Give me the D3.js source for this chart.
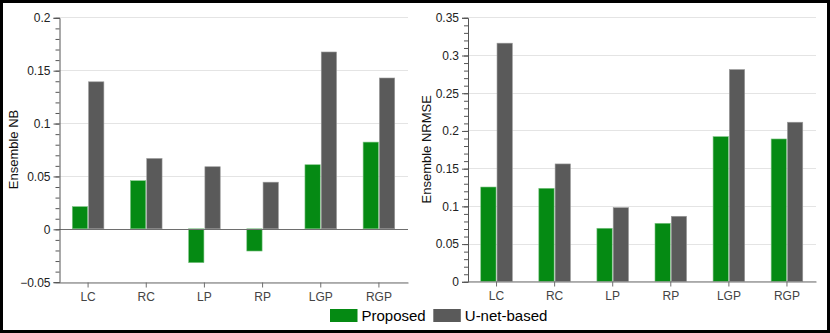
<!DOCTYPE html>
<html>
<head>
<meta charset="utf-8">
<script src="https://cdn.jsdelivr.net/npm/d3@7"></script>
<style>
  html, body { margin: 0; padding: 0; background: #fff; }
  svg { display: block; font-family: "Liberation Sans", Arial, sans-serif; }
</style>
</head>
<body>
<svg id="chart" width="830" height="333"></svg>
<script>
const categories = ["LC", "RC", "LP", "RP", "LGP", "RGP"];
const seriesNames = ["Proposed", "U-net-based"];
const nbProposed = [0.021, 0.0455, -0.032, -0.021, 0.0606, 0.082];
const nbUnet = [0.139, 0.0665, 0.0587, 0.0441, 0.1672, 0.1426];
const nrmseProposed = [0.125, 0.1233, 0.0703, 0.0769, 0.1918, 0.1887];
const nrmseUnet = [0.3157, 0.1556, 0.0976, 0.0862, 0.2807, 0.2109];
const nbTicks = [-0.05, 0, 0.05, 0.1, 0.15, 0.2];
const nrmseTicks = [0, 0.05, 0.1, 0.15, 0.2, 0.25, 0.3, 0.35];
const colors = ["#058a13", "#5a5a5a"];

const svg = d3.select("#chart");

// outer frame
svg.append("rect").attr("x", 1.5).attr("y", 1.5).attr("width", 827).attr("height", 330)
  .attr("fill", "#fff").attr("stroke", "#000").attr("stroke-width", 3);

function panel(opts) {
  const { x0, x1, y0, y1, domain, ticks, a, b, label, labelX } = opts;
  const g = svg.append("g");
  const y = d3.scaleLinear().domain(domain).range([y1, y0]);
  const x = d3.scaleBand().domain(categories).range([x0, x1]).padding(0);
  const sub = d3.scaleBand().domain(seriesNames).range([-15.8, 15.8]).paddingInner(0.06);

  // gridlines
  g.selectAll("line.grid").data(ticks).enter().append("line")
    .attr("x1", x0).attr("x2", x1)
    .attr("y1", d => Math.round(y(d)) + 0.5).attr("y2", d => Math.round(y(d)) + 0.5)
    .attr("stroke", "#e4e4e4").attr("stroke-width", 1);

  // bars
  const rows = categories.map((c, i) => ({ c, vals: [a[i], b[i]] }));
  const grp = g.selectAll("g.cat").data(rows).enter().append("g")
    .attr("transform", d => `translate(${x(d.c) + x.bandwidth() / 2},0)`);
  grp.selectAll("rect").data(d => d.vals.map((v, k) => ({ v, k }))).enter().append("rect")
    .attr("x", d => sub(seriesNames[d.k]))
    .attr("width", sub.bandwidth())
    .attr("y", d => y(Math.max(0, d.v)))
    .attr("height", d => Math.abs(y(d.v) - y(0)))
    .attr("fill", d => colors[d.k])
    .attr("stroke", d => d.k === 0 ? "#7fc485" : "#9a9a9a")
    .attr("stroke-width", 0.6);

  // zero line
  if (domain[0] < 0) {
    g.append("line").attr("x1", x0).attr("x2", x1)
      .attr("y1", Math.round(y(0)) + 0.5).attr("y2", Math.round(y(0)) + 0.5)
      .attr("stroke", "#6e6e6e").attr("stroke-width", 1);
  }

  // y axis: minor ticks
  const minor = d3.range(Math.round(domain[0] * 100), Math.round(domain[1] * 100) + 1).map(v => v / 100);
  const yMinor = d3.axisLeft(y).tickValues(minor).tickSize(4).tickFormat("");
  const ma = g.append("g").attr("transform", `translate(${x0 + 0.5},0.5)`).call(yMinor);
  ma.select(".domain").remove();
  ma.selectAll("line").attr("stroke", "#555");

  const yAxis = d3.axisLeft(y).tickValues(ticks).tickSize(6).tickPadding(3)
    .tickFormat(d => d3.format("~g")(+d.toFixed(3)));
  const ya = g.append("g").attr("transform", `translate(${x0 + 0.5},0.5)`).call(yAxis);
  ya.select(".domain").attr("stroke", "#555");
  ya.selectAll("line").attr("stroke", "#555");
  ya.selectAll("text").attr("fill", "#222").style("font-size", "12px")
    .style("font-family", "'Liberation Sans', Arial, sans-serif");

  // x axis
  const xAxis = d3.axisBottom(x).tickSize(5).tickSizeOuter(0).tickPadding(5);
  const xa = g.append("g").attr("transform", `translate(0,${Math.round(y1) + 0.5})`).call(xAxis);
  xa.select(".domain").attr("stroke", "#6e6e6e");
  xa.selectAll("line").attr("stroke", "#6e6e6e");
  xa.selectAll("text").attr("fill", "#444").style("font-size", "12px")
    .style("font-family", "'Liberation Sans', Arial, sans-serif");

  // y label
  svg.append("text")
    .attr("transform", `translate(${labelX},${(y0 + y1) / 2}) rotate(-90)`)
    .attr("text-anchor", "middle")
    .attr("fill", "#111")
    .style("font-size", "13px")
    .text(label);
}

panel({ x0: 59, x1: 408, y0: 17.3, y1: 281.7, domain: [-0.05, 0.2], ticks: nbTicks,
  a: nbProposed, b: nbUnet, label: "Ensemble NB", labelX: 18 });
panel({ x0: 467.5, x1: 816, y0: 17.3, y1: 281.3, domain: [0, 0.35], ticks: nrmseTicks,
  a: nrmseProposed, b: nrmseUnet, label: "Ensemble NRMSE", labelX: 431 });

// legend
const legend = svg.append("g");
const legendX = [330, 433.3];
seriesNames.forEach((s, i) => {
  legend.append("rect").attr("x", legendX[i]).attr("y", 309).attr("width", 27.5).attr("height", 13)
    .attr("fill", colors[i]);
  legend.append("text").attr("x", legendX[i] + 31.5).attr("y", 321)
    .attr("fill", "#000").style("font-size", "15px").text(s);
});
</script>
</body>
</html>
